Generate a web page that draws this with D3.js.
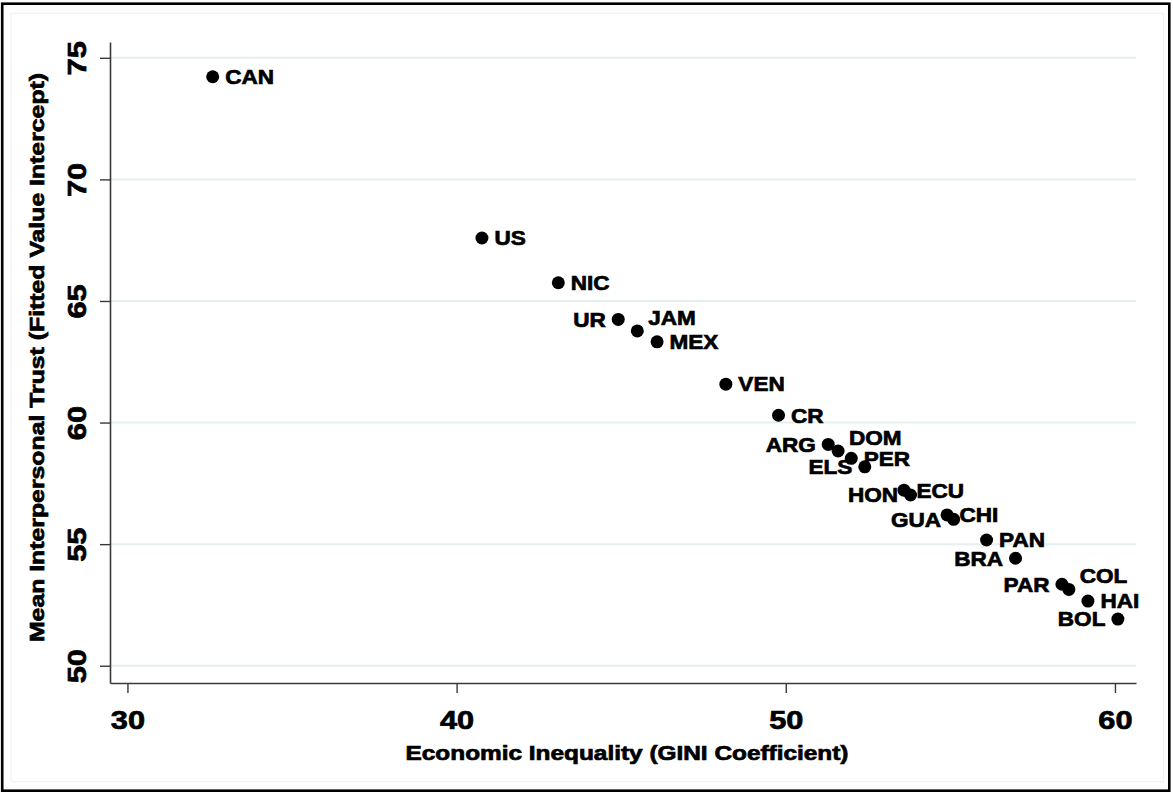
<!DOCTYPE html>
<html>
<head>
<meta charset="utf-8">
<script src="https://cdn.jsdelivr.net/npm/d3@7/dist/d3.min.js"></script>
<style>
  html, body { margin: 0; padding: 0; background: #fff; }
  svg { display: block; }
  text { font-family: "Liberation Sans", Arial, Helvetica, sans-serif; font-weight: bold; fill: #000;
         stroke: #000; stroke-width: 0.7px; paint-order: stroke; }
</style>
</head>
<body>
<svg id="chart" width="1173" height="792"></svg>
<script>
// Country codes, GINI coefficient and mean interpersonal trust (fitted intercept)
const countries = ["CAN","US","NIC","UR","JAM","MEX","VEN","CR","ARG","DOM","PER",
                   "ELS","ECU","HON","CHI","GUA","PAN","BRA","PAR","COL","HAI","BOL"];
const gini  = [32.59, 40.77, 43.09, 44.91, 45.49, 46.09, 48.18, 49.78, 51.29, 51.59, 51.99,
               52.40, 53.59, 53.79, 54.90, 55.10, 56.10, 56.98, 58.39, 58.60, 59.18, 60.09];
const trust = [74.22, 67.59, 65.75, 64.24, 63.77, 63.32, 61.58, 60.30, 59.10, 58.83, 58.53,
               58.18, 57.22, 57.02, 56.20, 56.02, 55.17, 54.42, 53.35, 53.14, 52.66, 51.92];
// Marker label clock positions (3 = right, 9 = left, 2 = upper right)
const labelClock = [3,3,3,9,2,3,3,3,9,2,3,9,3,9,3,9,3,9,9,2,3,9];

const xTicks = [30, 40, 50, 60];
const yTicks = [50, 55, 60, 65, 70, 75];
const xTitle = "Economic Inequality (GINI Coefficient)";
const yTitle = "Mean Interpersonal Trust (Fitted Value Intercept)";

const svg = d3.select("#chart");
const W = 1173, H = 792;
const plot = { left: 110, right: 1136, top: 42, bottom: 683 };
const stretch = 1.16;   // wide rendering of the bold face

const x = d3.scaleLinear().domain([29.47, 60.64]).range([plot.left, plot.right]);
const y = d3.scaleLinear().domain([49.29, 75.65]).range([plot.bottom, plot.top]);

// outer frame and inner graph region
svg.append("rect").attr("x", 0).attr("y", 0).attr("width", W).attr("height", H).attr("fill", "#fff");
svg.append("rect").attr("x", 11).attr("y", 13.3).attr("width", 1152.3).attr("height", 768.4)
  .attr("fill", "none").attr("stroke", "#eef0f0").attr("stroke-width", 1);
svg.append("rect").attr("x", 2.2).attr("y", 3.7).attr("width", 1167.1).attr("height", 787)
  .attr("fill", "none").attr("stroke", "#000").attr("stroke-width", 2.6);

// horizontal gridlines
svg.append("g").selectAll("line").data(yTicks).join("line")
  .attr("x1", plot.left).attr("x2", plot.right)
  .attr("y1", d => y(d)).attr("y2", d => y(d))
  .attr("stroke", "#e6eff0").attr("stroke-width", 2);

// axes
const xAxis = svg.append("g").attr("transform", `translate(0,${plot.bottom})`)
  .call(d3.axisBottom(x).tickValues(xTicks).tickSize(10).tickSizeOuter(0).tickFormat(d3.format("d")));
const yAxis = svg.append("g").attr("transform", `translate(${plot.left},0)`)
  .call(d3.axisLeft(y).tickValues(yTicks).tickSize(10).tickSizeOuter(0).tickFormat(d3.format("d")));

[xAxis, yAxis].forEach(g => {
  g.select(".domain").attr("stroke", "#3a3a3a").attr("stroke-width", 1.6);
  g.selectAll(".tick line").attr("stroke", "#3a3a3a").attr("stroke-width", 1.4);
  g.selectAll(".tick text").attr("font-size", 26.5).attr("fill", "#000")
    .attr("font-family", "'Liberation Sans', Arial, sans-serif").attr("font-weight", "bold");
});
xAxis.selectAll(".tick text")
  .attr("y", 0).attr("dy", 0).attr("text-anchor", "middle")
  .attr("transform", `translate(0,46) scale(${stretch},1)`);
yAxis.selectAll(".tick text")
  .attr("x", 0).attr("y", 0).attr("dy", 0).attr("text-anchor", "middle")
  .attr("transform", `translate(-24,0) rotate(-90) scale(${stretch},1)`);

// axis titles
svg.append("text").attr("font-size", 20.5).attr("text-anchor", "middle")
  .attr("transform", `translate(627,760) scale(${stretch + 0.03},1)`)
  .text(xTitle);
svg.append("text").attr("font-size", 20.5).attr("text-anchor", "middle")
  .attr("transform", `translate(44,357.5) rotate(-90) scale(${stretch + 0.05},1)`)
  .text(yTitle);

// marker labels, placed by clock position around each point
const labelSize = 20.5;
const gap = 12.5;
const capHalf = labelSize * 0.716 / 2;
const points = countries.map((c, i) => ({ name: c, gx: gini[i], ty: trust[i], clock: labelClock[i] }));

function labelPlacement(p) {
  const cx = x(p.gx), cy = y(p.ty);
  if (p.clock === 9) return { tx: cx - gap, ty: cy + capHalf, anchor: "end" };
  if (p.clock === 2) {
    const a = Math.PI / 3;
    return { tx: cx + gap * Math.sin(a), ty: cy - gap * Math.cos(a), anchor: "start" };
  }
  return { tx: cx + gap, ty: cy + capHalf, anchor: "start" };
}

svg.append("g").selectAll("text").data(points).join("text")
  .attr("font-size", labelSize)
  .attr("text-anchor", d => labelPlacement(d).anchor)
  .attr("transform", d => {
    const l = labelPlacement(d);
    return `translate(${l.tx},${l.ty}) scale(1.1,1)`;
  })
  .text(d => d.name);

// markers drawn over the labels
svg.append("g").selectAll("circle").data(points).join("circle")
  .attr("cx", d => x(d.gx)).attr("cy", d => y(d.ty))
  .attr("r", 6.5).attr("fill", "#000");
</script>
</body>
</html>
